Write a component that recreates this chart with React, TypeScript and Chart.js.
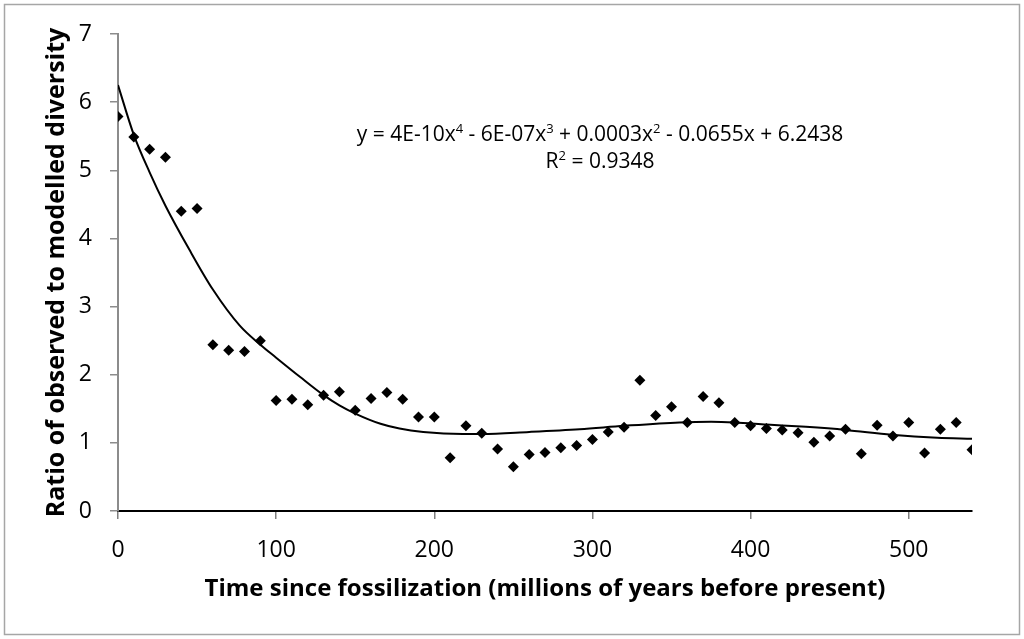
import { useEffect, useRef } from "react"
import { Chart, registerables } from "chart.js"

Chart.register(...registerables)

// time since fossilization (Myr) and observed / modelled diversity ratio
const years = [
  0, 10, 20, 30, 40, 50, 60, 70, 80, 90, 100, 110, 120, 130, 140, 150, 160, 170, 180, 190,
  200, 210, 220, 230, 240, 250, 260, 270, 280, 290, 300, 310, 320, 330, 340, 350, 360, 370,
  380, 390, 400, 410, 420, 430, 440, 450, 460, 470, 480, 490, 500, 510, 520, 530, 540,
]
const ratios = [
  5.79, 5.49, 5.31, 5.19, 4.4, 4.44, 2.44, 2.36, 2.34, 2.5, 1.62, 1.64, 1.56, 1.7, 1.75, 1.48,
  1.65, 1.74, 1.64, 1.38, 1.38, 0.78, 1.25, 1.14, 0.91, 0.65, 0.83, 0.86, 0.93, 0.96, 1.05,
  1.16, 1.23, 1.92, 1.4, 1.53, 1.3, 1.68, 1.59, 1.3, 1.25, 1.21, 1.19, 1.15, 1.01, 1.1, 1.2,
  0.84, 1.26, 1.1, 1.3, 0.85, 1.2, 1.3, 0.9,
]

// polynomial trendline
const trendX = [
  0, 10, 20, 30, 45, 60, 77, 90, 100, 115, 130, 140, 150, 166, 178, 193, 218, 230, 260, 292,
  320, 355, 375, 390, 410, 435, 460, 489, 518, 540,
]
const trendY = [
  6.25, 5.52, 4.97, 4.48, 3.84, 3.25, 2.72, 2.44, 2.25, 1.97, 1.7, 1.55, 1.43, 1.28, 1.21,
  1.16, 1.13, 1.13, 1.16, 1.2, 1.25, 1.3, 1.31, 1.3, 1.27, 1.235, 1.19, 1.12, 1.075, 1.06,
]

const xTicks = [0, 100, 200, 300, 400, 500]
const yTicks = [0, 1, 2, 3, 4, 5, 6, 7]

const equation: { t: string; sup?: boolean }[] = [
  { t: "y = 4E-10x" },
  { t: "4", sup: true },
  { t: " - 6E-07x" },
  { t: "3", sup: true },
  { t: " + 0.0003x" },
  { t: "2", sup: true },
  { t: " - 0.0655x + 6.2438" },
]
const rSquared: { t: string; sup?: boolean }[] = [
  { t: "R" },
  { t: "2", sup: true },
  { t: " = 0.9348" },
]

const FONT = "'Open Sans', sans-serif"

function drawRuns(
  ctx: CanvasRenderingContext2D,
  runs: { t: string; sup?: boolean }[],
  cx: number,
  baseline: number,
  size: number
) {
  const supSize = size * 0.62
  let total = 0
  runs.forEach((r) => {
    ctx.font = `${r.sup ? supSize : size}px ${FONT}`
    total += ctx.measureText(r.t).width
  })
  let x = cx - total / 2
  runs.forEach((r) => {
    ctx.font = `${r.sup ? supSize : size}px ${FONT}`
    ctx.fillText(r.t, x, r.sup ? baseline - size * 0.38 : baseline)
    x += ctx.measureText(r.t).width
  })
}

const decorations = {
  id: "decorations",
  beforeDraw(chart: Chart) {
    const { ctx, width, height } = chart
    ctx.save()
    ctx.fillStyle = "#ffffff"
    ctx.fillRect(0, 0, width, height)
    ctx.restore()
  },
  afterDraw(chart: Chart) {
    const { ctx, width, height } = chart
    ctx.save()
    ctx.strokeStyle = "#a6a6a6"
    ctx.lineWidth = 1.5
    ctx.strokeRect(4.5, 4.5, width - 9, height - 9)
    ctx.fillStyle = "#000000"
    ctx.textBaseline = "alphabetic"
    ctx.textAlign = "left"
    drawRuns(ctx, equation, 600, 141, 21)
    drawRuns(ctx, rSquared, 600, 168, 21)
    ctx.restore()
  },
}

export default function App() {
  const chartRef = useRef<HTMLCanvasElement>(null)
  const chartInstance = useRef<Chart | null>(null)

  useEffect(() => {
    document.body.style.margin = "0"
    if (!chartRef.current) return
    if (chartInstance.current) chartInstance.current.destroy()

    chartInstance.current = new Chart(chartRef.current, {
      type: "scatter",
      data: {
        datasets: [
          {
            label: "Trendline",
            data: trendX.map((x, i) => ({ x, y: trendY[i] })),
            showLine: true,
            borderColor: "#000000",
            borderWidth: 2,
            pointRadius: 0,
            cubicInterpolationMode: "monotone",
            fill: false,
          },
          {
            label: "Ratio",
            data: years.map((x, i) => ({ x, y: ratios[i] })),
            pointStyle: "rectRot",
            pointRadius: 5.5,
            backgroundColor: "#000000",
            borderColor: "#000000",
            borderWidth: 0,
          },
        ],
      },
      options: {
        responsive: false,
        animation: false,
        layout: { padding: { left: 0, top: 34, right: 52, bottom: 0 } },
        plugins: { legend: { display: false }, tooltip: { enabled: false } },
        scales: {
          x: {
            type: "linear",
            min: 0,
            max: 540,
            afterBuildTicks: (scale) => {
              scale.ticks = xTicks.map((value) => ({ value }))
            },
            afterFit: (scale) => {
              scale.height = 128
            },
            grid: { drawOnChartArea: false, tickLength: 8, color: "#7f7f7f", lineWidth: 1.5 },
            border: { color: "#000000", width: 2 },
            ticks: { color: "#000000", padding: 18, font: { family: FONT, size: 23 } },
            title: {
              display: true,
              text: "Time since fossilization (millions of years before present)",
              color: "#000000",
              font: { family: FONT, size: 24, weight: "bold" },
              padding: { top: 0, bottom: 35 },
            },
          },
          y: {
            type: "linear",
            min: 0,
            max: 7,
            afterBuildTicks: (scale) => {
              scale.ticks = yTicks.map((value) => ({ value }))
            },
            afterFit: (scale) => {
              scale.width = 118
            },
            grid: { drawOnChartArea: false, tickLength: 8, color: "#8c8c8c", lineWidth: 1.5 },
            border: { color: "#8c8c8c", width: 2 },
            ticks: { color: "#000000", padding: 18, font: { family: FONT, size: 23 } },
            title: {
              display: true,
              text: "Ratio of observed to modelled diversity",
              color: "#000000",
              font: { family: FONT, size: 25, weight: "bold" },
              padding: { top: 42, bottom: 0 },
            },
          },
        },
      },
      plugins: [decorations],
    })

    return () => {
      if (chartInstance.current) {
        chartInstance.current.destroy()
        chartInstance.current = null
      }
    }
  }, [])

  return (
    <div style={{ width: 1024, height: 639 }}>
      <canvas ref={chartRef} width={1024} height={639}></canvas>
    </div>
  )
}
